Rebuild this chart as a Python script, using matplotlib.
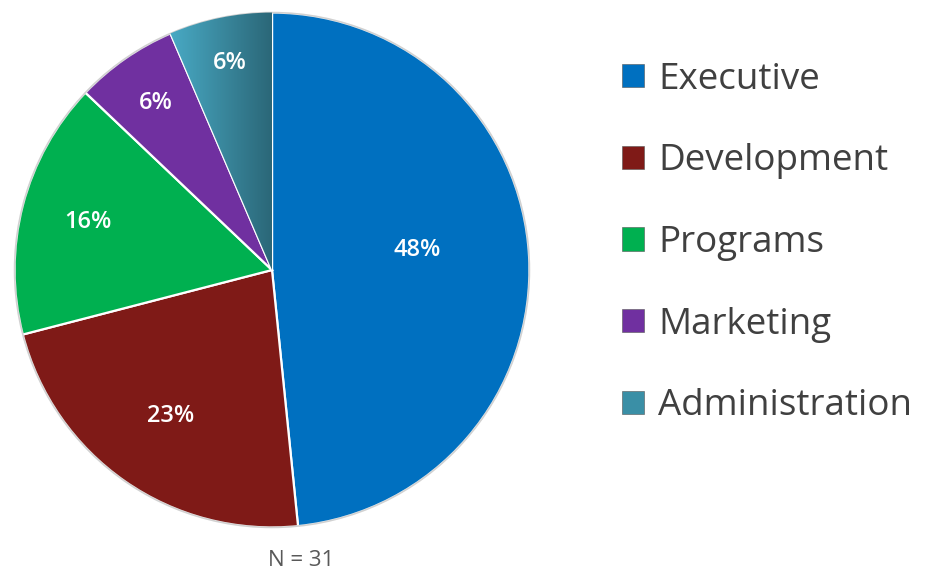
import numpy as np
import matplotlib.pyplot as plt
from matplotlib.patches import Patch
from matplotlib.colors import LinearSegmentedColormap

# Staff counts by department (N = 31)
departments = ["Executive", "Development", "Programs", "Marketing", "Administration"]
counts = [15, 7, 5, 2, 2]
colors = ["#0070C0", "#7F1A17", "#00B050", "#7030A0", "#3A8FA6"]

# label radius (fraction of pie radius) and angle nudge in degrees
label_r = [0.57, 0.69, 0.74, 0.79, 0.82]
label_nudge = [5, 0, 0, 0, 0]

plt.rcParams["font.family"] = ["Open Sans", "DejaVu Sans"]

W, H = 927, 573
fig = plt.figure(figsize=(W / 100, H / 100), dpi=100)
cx, cy, R = 272, 270, 260
ax = fig.add_axes([(cx - R) / W, (H - cy - R) / H, 2 * R / W, 2 * R / H])

wedges, _ = ax.pie(counts, colors=colors, startangle=90, counterclock=False,
                   radius=1.0,
                   wedgeprops=dict(edgecolor="white", linewidth=1.6))
ax.set_aspect("equal")
ax.axis("off")

# soft dark rim around the pie
rim = plt.Circle((0, 0), 1.0, fill=False, edgecolor="#000000", alpha=0.18, linewidth=1.2)
ax.add_patch(rim)

# horizontal gradient on the Administration slice
adm = wedges[4]
grad = np.linspace(0, 1, 256).reshape(1, -1)
cmap = LinearSegmentedColormap.from_list("adm", ["#4AADC8", "#2B6778"])
th = np.radians([adm.theta1, adm.theta2])
x0 = min(np.cos(th[0]), np.cos(th[1]))
img = ax.imshow(grad, cmap=cmap, extent=[x0 - 0.02, 0.0, 0, 1.0],
                aspect="auto", zorder=adm.get_zorder() + 0.1)
img.set_clip_path(adm)
ax.set_xlim(-1.01, 1.01)
ax.set_ylim(-1.01, 1.01)

total = sum(counts)
for w, n, r, d in zip(wedges, counts, label_r, label_nudge):
    mid = np.radians((w.theta1 + w.theta2) / 2 + d)
    ax.text(r * np.cos(mid), r * np.sin(mid), f"{100 * n / total:.0f}%",
            ha="center", va="center", color="white", fontsize=17,
            fontweight="semibold", zorder=5)

handles = [Patch(facecolor=c, edgecolor="#555555", linewidth=0.4) for c in colors]
fig.legend(handles, departments, loc="upper left", bbox_to_anchor=(0.655, 0.918),
           frameon=False, fontsize=26.5, labelcolor="#404040",
           handlelength=0.6, handleheight=0.6, handletextpad=0.38,
           labelspacing=1.24, borderaxespad=0)

fig.text(301 / W, 1 - 560 / H, "N = 31", ha="center", va="center",
         fontsize=16, color="#595959")

fig.savefig("out.png", dpi=100)
